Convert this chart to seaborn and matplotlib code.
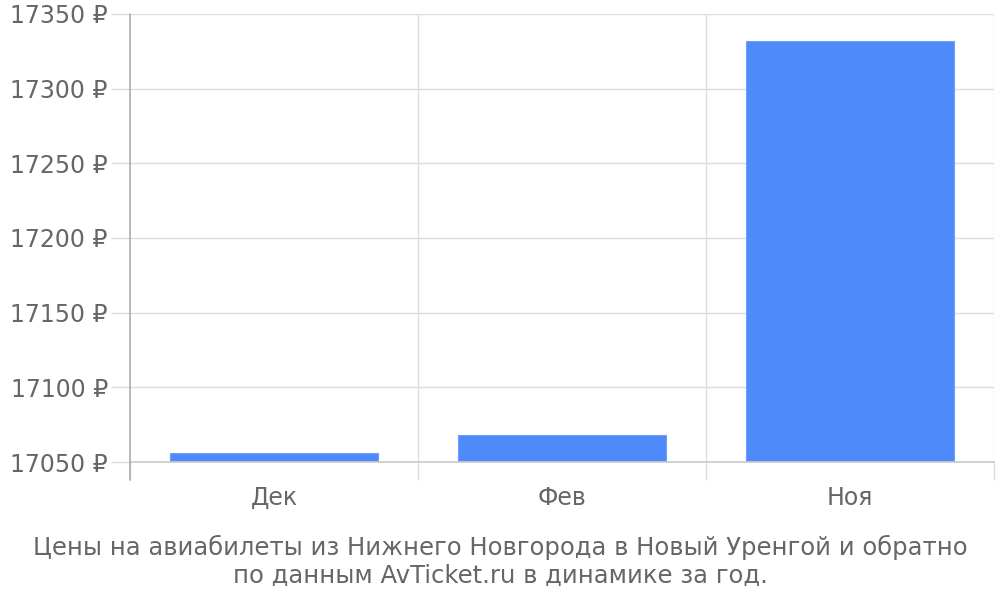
import matplotlib
matplotlib.use("Agg")
import matplotlib.pyplot as plt
import seaborn as sns
import pandas as pd

months = ["Дек", "Фев", "Ноя"]
prices = [17056, 17068, 17332]
y_ticks = [17050, 17100, 17150, 17200, 17250, 17300, 17350]
caption = "Цены на авиабилеты из Нижнего Новгорода в Новый Уренгой и обратно\nпо данным AvTicket.ru в динамике за год."

sns.set_theme(style="white")
plt.rcParams['font.family'] = ['DejaVu Sans']

df = pd.DataFrame({"month": months, "price": prices})

fig = plt.figure(figsize=(10, 6), dpi=100)
ax = fig.add_axes([0.13, 0.23, 0.864, 0.7467])

ax.set_axisbelow(True)
sns.barplot(data=df, x="month", y="price", color="#4e8af9", width=0.72,
            saturation=1, edgecolor="#6f9ffa", linewidth=0.8, ax=ax)
ax.set_xlim(-0.5, 2.5)
ax.set_ylim(17050, 17350)
ax.set_yticks(y_ticks)
ax.yaxis.grid(True, color="#dddddd", linewidth=1)

# vertical separators between categories
for xb in [0.5, 1.5, 2.5]:
    ax.axvline(xb, color="#dddddd", linewidth=1, zorder=0)
ax.set_xticks([0, 1, 2])
ax.set_xticklabels(months)
ax.set_xticks([-0.5, 0.5, 1.5, 2.5], minor=True)
ax.tick_params(axis="x", which="both", bottom=True)
ax.tick_params(axis="x", which="major", length=0, pad=17, labelsize=17, labelcolor="#666666")
ax.tick_params(axis="x", which="minor", length=13, width=1, color="#dddddd", direction="out")
ax.tick_params(axis="y", which="major", left=True, length=14, width=1, color="#dddddd", pad=2,
               labelsize=17, labelcolor="#666666")
ax.set_yticklabels([f"{v} ₽" for v in y_ticks])

for s in ["top", "right", "left"]:
    ax.spines[s].set_visible(False)
ax.spines["bottom"].set_color("#cccccc")
ax.plot([0, 0], [-18 / 448, 1], transform=ax.transAxes, color="#aaaaaa",
        linewidth=1.2, clip_on=False, zorder=5)
ax.set_xlabel("")
ax.set_ylabel("")

fig.text(0.5, 0.065, caption, ha="center", va="center", fontsize=17.5,
         color="#666666", linespacing=1.2)

fig.savefig("out.png", dpi=100)
